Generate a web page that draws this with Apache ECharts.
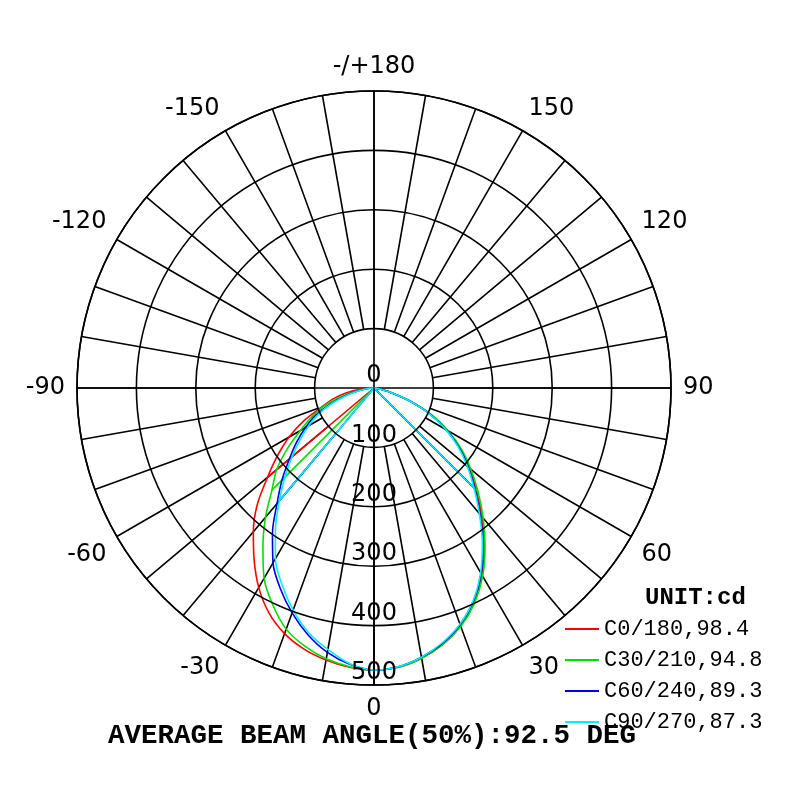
<!DOCTYPE html>
<html>
<head>
<meta charset="utf-8">
<title>Polar luminous intensity</title>
<script src="https://cdn.jsdelivr.net/npm/echarts@6.0.0/dist/echarts.min.js"></script>
<style>
  html, body { margin: 0; padding: 0; background: #fff; }
  #chart { width: 800px; height: 800px; }
</style>
</head>
<body>
<div id="chart"></div>
<script>
// gamma angles (deg), 0 = straight down, + to the right
const gamma = [-90, -85, -80, -75, -70, -65, -60, -55, -50, -45, -40, -35, -30, -25, -20, -15, -10, -5,
  0, 5, 10, 15, 20, 25, 30, 35, 40, 45, 50, 55, 60, 65, 70, 75, 80, 85, 90];

// intensity in cd, one array per C plane
const c0 = [0, 22, 48, 72, 94, 130, 165, 198, 234, 278, 316, 352, 388, 418, 440, 455, 465, 472,
  475, 472, 462, 447, 426, 398, 363, 323, 282, 244, 210, 177, 141, 105, 64, 29, 10, 3, 0];
const c30 = [0, 12, 30, 57, 90, 116, 143, 178, 214, 243, 284, 326, 370, 403, 432, 450, 463, 471,
  475, 472, 462, 447, 427, 400, 366, 326, 286, 248, 213, 180, 144, 108, 66, 30, 10, 3, 0];
const c60 = [0, 11, 27, 50, 78, 108, 133, 159, 186, 219, 254, 298, 340, 373, 403, 430, 452, 467,
  475, 471, 460, 445, 424, 396, 361, 320, 278, 240, 207, 175, 140, 104, 64, 29, 10, 3, 0];
const c90 = [0, 10, 25, 47, 74, 102, 127, 152, 180, 212, 248, 289, 332, 366, 398, 426, 447, 466,
  475, 471, 460, 444, 423, 395, 359, 318, 276, 238, 205, 173, 139, 103, 63, 28, 9, 3, 0];

const seriesNames = ['C0/180,98.4', 'C30/210,94.8', 'C60/240,89.3', 'C90/270,87.3'];
const seriesValues = [c0, c30, c60, c90];
// the plotter joins the centre to one point on each side
const chordLeft = [-50, -45, -40, -40];
const chordRight = [45, 45, 45, 45];

const radialTicks = [0, 100, 200, 300, 400, 500];
const unitText = 'UNIT:cd';
const beamText = 'AVERAGE BEAM ANGLE(50%):92.5 DEG';

document.addEventListener('DOMContentLoaded', () => {
    const chart = echarts.init(document.getElementById('chart'), null, {renderer: 'canvas'});

    const colors = ['#ff0000', '#00e000', '#0000dd', '#00f0ff'];
    const gridLine = {color: '#000', width: 1.6};
    const center = [374, 388];
    const outer = 297;
    const inner = outer / 5;

    // angle on the axis runs 0..360 ccw from the bottom
    const toAxis = g => (g < 0 ? g + 360 : g);
    const point = (vals, g) => [vals[gamma.indexOf(g)], toAxis(g)];

    const series = [];
    seriesValues.forEach((vals, i) => {
        const common = {
            name: seriesNames[i],
            type: 'line',
            coordinateSystem: 'polar',
            polarIndex: 0,
            showSymbol: false,
            symbol: 'none',
            lineStyle: {color: colors[i], width: 1.6},
            itemStyle: {color: colors[i]},
            z: 5 + i
        };
        // smooth outline
        series.push(Object.assign({}, common, {
            smooth: 0.3,
            data: gamma.map((g, k) => [vals[k], toAxis(g)])
        }));
        // straight chords through the centre
        series.push(Object.assign({}, common, {
            data: [point(vals, chordLeft[i]), [0, 0], point(vals, chordRight[i])]
        }));
    });

    const option = {
        backgroundColor: '#fff',
        animation: false,
        color: colors,
        title: [{
            text: unitText,
            left: 645,
            top: 586,
            padding: 0,
            textStyle: {fontFamily: 'Liberation Mono', fontWeight: 'bold', fontSize: 24, color: '#000'}
        }, {
            text: beamText,
            left: 108,
            top: 722,
            padding: 0,
            textStyle: {fontFamily: 'Liberation Mono', fontWeight: 'bold', fontSize: 27.5, color: '#000'}
        }],
        legend: {
            orient: 'vertical',
            left: 565,
            top: 617,
            padding: 0,
            icon: 'rect',
            itemWidth: 34,
            itemHeight: 2,
            itemGap: 7,
            selectedMode: false,
            data: seriesNames,
            textStyle: {fontFamily: 'Liberation Mono', fontSize: 22, lineHeight: 24, color: '#000'}
        },
        polar: [
            {center: center, radius: outer},
            {center: center, radius: [inner, outer]}
        ],
        angleAxis: [{
            // main axes through the centre + outer circle
            polarIndex: 0,
            type: 'value',
            min: 0,
            max: 360,
            interval: 90,
            startAngle: -90,
            clockwise: false,
            axisLine: {show: true, lineStyle: gridLine},
            axisTick: {show: false},
            axisLabel: {show: false},
            splitLine: {show: true, lineStyle: gridLine}
        }, {
            // 10 degree spokes outside the first ring, labels every 30
            polarIndex: 1,
            type: 'value',
            min: 0,
            max: 360,
            interval: 10,
            startAngle: -90,
            clockwise: false,
            axisLine: {show: false},
            axisTick: {show: false},
            splitLine: {show: true, lineStyle: gridLine},
            axisLabel: {
                show: true,
                margin: 12,
                fontFamily: 'DejaVu Sans',
                fontSize: 24,
                color: '#000',
                formatter: v => {
                    if (v % 30 !== 0 || v === 360) return '';
                    if (v === 180) return '-/+180';
                    return v > 180 ? '-' + (360 - v) : String(v);
                }
            }
        }],
        radiusAxis: [{
            polarIndex: 0,
            type: 'value',
            min: radialTicks[0],
            max: radialTicks[radialTicks.length - 1],
            interval: radialTicks[1] - radialTicks[0],
            axisLine: {show: true, lineStyle: gridLine},
            axisTick: {show: false},
            splitLine: {show: true, lineStyle: gridLine},
            axisLabel: {
                show: true,
                margin: 0,
                align: 'center',
                verticalAlign: 'bottom',
                fontFamily: 'DejaVu Sans',
                fontSize: 24,
                color: '#000'
            },
            z: 10
        }, {
            polarIndex: 1,
            type: 'value',
            min: 100,
            max: 500,
            show: false
        }],
        series: series
    };

    chart.setOption(option);
});
</script>
</body>
</html>
